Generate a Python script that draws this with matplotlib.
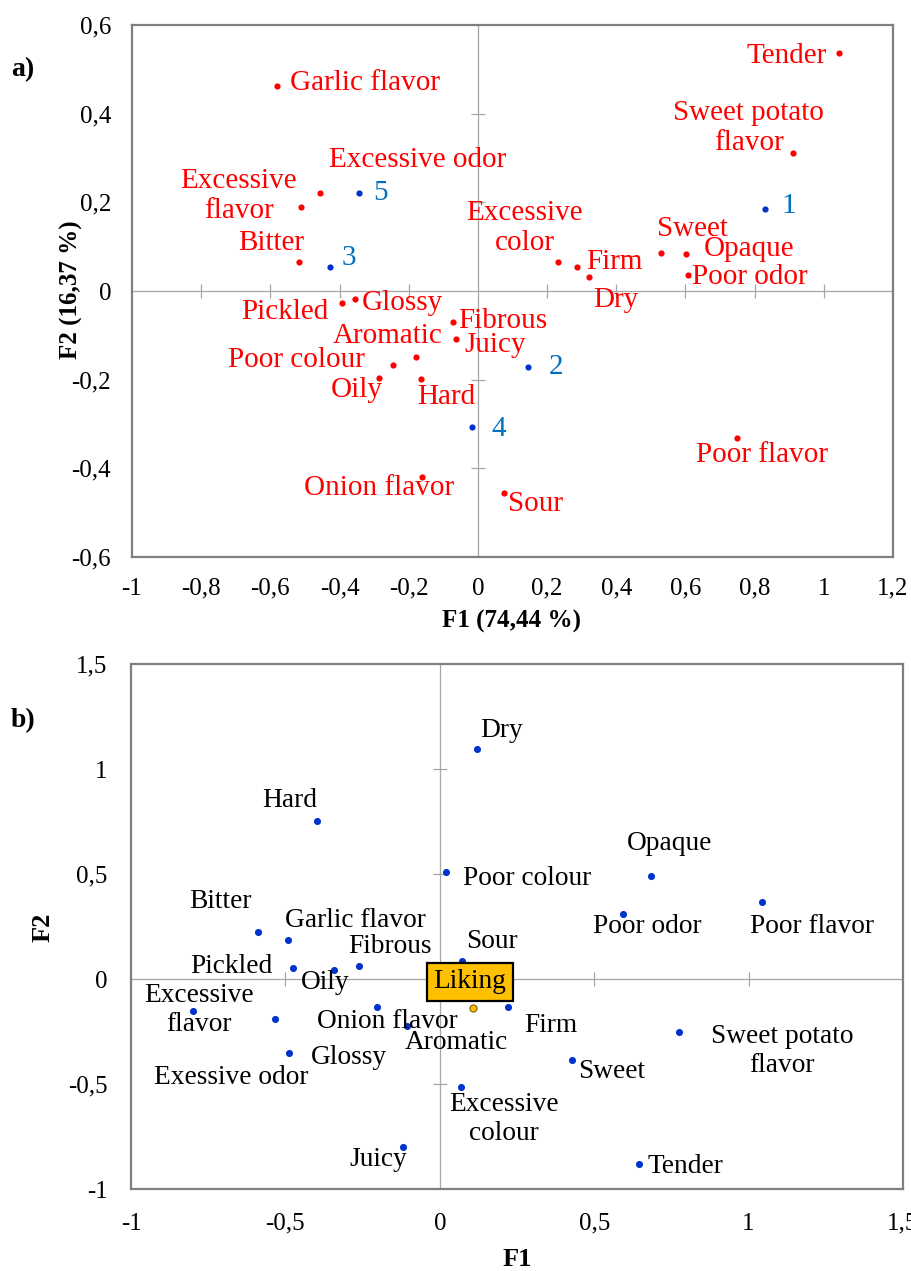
import matplotlib
matplotlib.use('Agg')
import matplotlib.pyplot as plt
from matplotlib.ticker import FuncFormatter

plt.rcParams['font.family'] = ['Liberation Serif', 'DejaVu Serif']

# ---- panel a: attributes (red) and samples (blue) ----
a_attr = ['Tender', 'Sweet potato\nflavor', 'Excessive odor', 'Excessive\nflavor',
          'Garlic flavor', 'Bitter', 'Excessive\ncolor', 'Firm', 'Dry', 'Sweet',
          'Opaque', 'Poor odor', 'Pickled', 'Glossy', 'Fibrous', 'Juicy', 'Aromatic',
          'Poor colour', 'Oily', 'Hard', 'Poor flavor', 'Sour', 'Onion flavor']
a_f1 = [1.043, 0.910, -0.457, -0.512, -0.581, -0.517, 0.231, 0.286, 0.321, 0.529,
        0.601, 0.607, -0.393, -0.355, -0.072, -0.064, -0.179, -0.246, -0.286, -0.165,
        0.749, 0.075, -0.162]
a_f2 = [0.537, 0.312, 0.222, 0.190, 0.463, 0.065, 0.065, 0.054, 0.032, 0.086,
        0.084, 0.036, -0.028, -0.018, -0.070, -0.108, -0.149, -0.167, -0.196, -0.199,
        -0.332, -0.456, -0.420]

samples = ['1', '2', '3', '4', '5']
s_f1 = [0.829, 0.145, -0.428, -0.017, -0.344]
s_f2 = [0.185, -0.172, 0.055, -0.307, 0.220]

# ---- panel b: attributes + liking ----
b_attr = ['Dry', 'Hard', 'Poor colour', 'Opaque', 'Poor odor', 'Poor flavor', 'Bitter',
          'Garlic flavor', 'Fibrous', 'Sour', 'Pickled', 'Oily', 'Excessive\nflavor',
          'Exessive odor', 'Glossy', 'Onion flavor', 'Aromatic', 'Firm',
          'Sweet potato\nflavor', 'Sweet', 'Excessive\ncolour', 'Juicy', 'Tender']
b_f1 = [0.120, -0.399, 0.019, 0.684, 0.593, 1.043, -0.589, -0.493, -0.262, 0.071,
        -0.476, -0.343, -0.800, -0.535, -0.489, -0.204, -0.107, 0.220, 0.774, 0.428,
        0.068, -0.120, 0.645]
b_f2 = [1.095, 0.752, 0.510, 0.490, 0.310, 0.367, 0.224, 0.186, 0.062, 0.086,
        0.052, 0.043, -0.152, -0.190, -0.352, -0.133, -0.224, -0.133, -0.252, -0.385,
        -0.514, -0.800, -0.880]
liking = ('Liking', 0.107, -0.138)

a_xticks = [-1, -0.8, -0.6, -0.4, -0.2, 0, 0.2, 0.4, 0.6, 0.8, 1, 1.2]
a_yticks = [-0.6, -0.4, -0.2, 0, 0.2, 0.4, 0.6]
b_xticks = [-1, -0.5, 0, 0.5, 1, 1.5]
b_yticks = [-1, -0.5, 0, 0.5, 1, 1.5]

# label offsets in pixels (dx, dy, ha)
a_off = {
    'Tender': (-12, -3, 'right'), 'Sweet potato\nflavor': (-44, 25, 'center'),
    'Excessive odor': (9, 33, 'left'), 'Excessive\nflavor': (-62, 11, 'center'),
    'Garlic flavor': (13, 3, 'left'), 'Bitter': (5, 19, 'right'),
    'Excessive\ncolor': (-33, 34, 'center'), 'Firm': (9, 5, 'left'),
    'Dry': (4, -23, 'left'), 'Sweet': (32, 24, 'center'), 'Opaque': (18, 5, 'left'),
    'Poor odor': (4, -2, 'left'), 'Pickled': (-14, -9, 'right'),
    'Glossy': (7, -4, 'left'), 'Fibrous': (5, 1, 'left'), 'Juicy': (9, -6, 'left'),
    'Aromatic': (27, 21, 'right'), 'Poor colour': (-28, 5, 'right'),
    'Oily': (4, -12, 'right'), 'Hard': (-4, -18, 'left'),
    'Poor flavor': (25, -17, 'center'), 'Sour': (4, -11, 'left'),
    'Onion flavor': (-43, -11, 'center'),
}
s_off = {'1': (17, 3), '2': (21, 0), '3': (12, 9), '4': (19, -2), '5': (14, 0)}
b_off = {
    'Dry': (3, 19, 'left'), 'Hard': (-27, 21, 'center'), 'Poor colour': (17, -7, 'left'),
    'Opaque': (19, 33, 'center'), 'Poor odor': (24, -13, 'center'),
    'Poor flavor': (50, -25, 'center'), 'Bitter': (-37, 30, 'center'),
    'Garlic flavor': (-3, 19, 'left'), 'Fibrous': (31, 19, 'center'),
    'Sour': (4, 19, 'left'), 'Pickled': (-20, 2, 'right'), 'Oily': (-9, -13, 'center'),
    'Excessive\nflavor': (6, 1, 'center'), 'Exessive odor': (-43, -59, 'center'),
    'Glossy': (22, -5, 'left'), 'Onion flavor': (11, -15, 'center'),
    'Aromatic': (50, -16, 'center'), 'Firm': (16, -19, 'left'),
    'Sweet potato\nflavor': (103, -19, 'center'), 'Sweet': (6, -12, 'left'),
    'Excessive\ncolour': (43, -32, 'center'), 'Juicy': (-24, -13, 'center'),
    'Tender': (9, -3, 'left'),
}

W, H = 911, 1271
fig = plt.figure(figsize=(W / 100, H / 100), dpi=100)
comma = FuncFormatter(lambda v, p: f'{v:g}'.replace('.', ','))
frame_col = '#7f7f7f'
zero_col = '#a6a6a6'


def setup(ax, xt, yt, pad):
    ax.set_xlim(xt[0], xt[-1])
    ax.set_ylim(yt[0], yt[-1])
    ax.set_xticks(xt)
    ax.set_yticks(yt)
    ax.xaxis.set_major_formatter(comma)
    ax.yaxis.set_major_formatter(comma)
    ax.tick_params(length=0, labelsize=18, pad=pad, colors='black')
    for s in ax.spines.values():
        s.set_color(frame_col)
        s.set_linewidth(1.6)
    ax.axhline(0, color=zero_col, lw=0.9, zorder=1)
    ax.axvline(0, color=zero_col, lw=0.9, zorder=1)
    xs = [v for v in xt[1:-1] if v != 0]
    ys = [v for v in yt[1:-1] if v != 0]
    ax.plot(xs, [0] * len(xs), ls='none', marker='|', ms=10, mew=0.9, color=zero_col, zorder=1)
    ax.plot([0] * len(ys), ys, ls='none', marker='_', ms=10, mew=0.9, color=zero_col, zorder=1)


def frac(px_l, px_t, px_r, px_b):
    return [px_l / W, 1 - px_b / H, (px_r - px_l) / W, (px_b - px_t) / H]


# ---- panel a ----
ax1 = fig.add_axes(frac(132, 25, 893, 557))
setup(ax1, a_xticks, a_yticks, 15)
ax1.scatter(a_f1, a_f2, s=20, color='#ff0000', zorder=3, linewidths=0)
for name, x, y in zip(a_attr, a_f1, a_f2):
    dx, dy, ha = a_off[name]
    ax1.annotate(name, (x, y), xytext=(dx, dy), textcoords='offset pixels', ha=ha,
                 va='center', multialignment='center', fontsize=21, color='#ff0000')
ax1.scatter(s_f1, s_f2, s=20, color='#0033cc', zorder=3, linewidths=0)
for name, x, y in zip(samples, s_f1, s_f2):
    dx, dy = s_off[name]
    ax1.annotate(name, (x, y), xytext=(dx, dy), textcoords='offset pixels', ha='left',
                 va='center', fontsize=21, color='#0070c0')

fig.text(23 / W, 1 - 70 / H, 'a)', fontsize=20, fontweight='bold', ha='center', va='center')
fig.text(71 / W, 1 - 290 / H, 'F2 (16,37 %)', fontsize=18, fontweight='bold',
         rotation=90, ha='center', va='center')
fig.text(512 / W, 1 - 621 / H, 'F1 (74,44 %)', fontsize=18, fontweight='bold',
         ha='center', va='center')

# ---- panel b ----
ax2 = fig.add_axes(frac(131, 664, 903, 1189))
setup(ax2, b_xticks, b_yticks, 17)
ax2.scatter(b_f1, b_f2, s=26, color='#0033cc', zorder=3, linewidths=0)
for name, x, y in zip(b_attr, b_f1, b_f2):
    dx, dy, ha = b_off[name]
    ax2.annotate(name, (x, y), xytext=(dx, dy), textcoords='offset pixels', ha=ha,
                 va='center', multialignment='center', fontsize=19.7, color='black')
ax2.scatter([liking[1]], [liking[2]], s=26, color='#ffc000', edgecolors='#7f6000',
            linewidths=0.8, zorder=3)
ax2.annotate(liking[0], (liking[1], liking[2]), xytext=(-3, 26), textcoords='offset pixels',
             ha='center', va='center', fontsize=19.7, color='black', zorder=4,
             bbox=dict(boxstyle='square,pad=0.25', fc='#ffc000', ec='black', lw=1.6))

fig.text(23 / W, 1 - 721 / H, 'b)', fontsize=20, fontweight='bold', ha='center', va='center')
fig.text(43 / W, 1 - 927 / H, 'F2', fontsize=19, fontweight='bold',
         rotation=90, ha='center', va='center')
fig.text(517 / W, 1 - 1259 / H, 'F1', fontsize=19, fontweight='bold',
         ha='center', va='center')

fig.savefig('out.png', dpi=100)
